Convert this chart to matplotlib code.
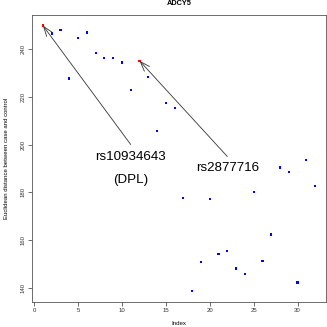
import matplotlib
matplotlib.use("Agg")
import matplotlib.pyplot as plt
import numpy as np

plt.rcParams['font.family'] = ['Liberation Sans', 'DejaVu Sans']

# Euclidean distance per SNP index
distance = [249.7, 246.4, 247.8, 227.6, 244.6, 246.8, 238.2, 236.0,
            236.0, 234.3, 222.8, 235.0, 228.2, 205.5, 217.4, 215.1,
            177.5, 138.8, 151.1, 177.1, 154.2, 155.5, 148.2, 145.8,
            180.0, 151.3, 162.4, 190.4, 188.5, 142.4, 193.6, 182.6]
index = np.arange(1, len(distance) + 1)
highlight = [1, 12]
snp_labels = ["rs10934643", "rs2877716"]
gene_label = "(DPL)"
title = "ADCY5"

fig = plt.figure(figsize=(3.27, 3.27), dpi=100)
ax = fig.add_axes([0.098, 0.077, 0.899, 0.877])

colors = ['red' if i in highlight else 'blue' for i in index]
ax.scatter(index, distance, c=colors, marker='s', s=2.4, linewidths=0)

ax.set_xlim(-0.24, 33.24)
ax.set_ylim(134.3, 254.1)
ax.set_xticks(np.arange(0, 31, 5))
ax.set_yticks(np.arange(140, 241, 20))
ax.tick_params(labelsize=4.3, length=3, width=0.5, colors='#333', pad=1.5)
for lab in ax.get_yticklabels():
    lab.set_rotation(90)
    lab.set_va('center')
for sp in ax.spines.values():
    sp.set_linewidth(0.6)
    sp.set_color('#555')

ax.set_xlabel("Index", fontsize=4.4, labelpad=6)
ax.set_ylabel("Euclidean distance between case and control", fontsize=4.3, labelpad=8.5)
ax.set_title(title, fontsize=5.3, fontweight='bold', pad=7)

arrow = dict(arrowstyle='->,head_length=0.7,head_width=0.25', color='#333',
             lw=0.6, shrinkA=0, shrinkB=0)
i1, i2 = highlight
ax.annotate("", xy=(i1, distance[i1 - 1]), xytext=(11, 200), arrowprops=arrow)
ax.text(11, 195, snp_labels[0], fontsize=9.6, ha='center', va='center')
ax.text(11, 185, gene_label, fontsize=9.6, ha='center', va='center')
ax.annotate("", xy=(i2, distance[i2 - 1]), xytext=(22, 195), arrowprops=arrow)
ax.text(22, 190, snp_labels[1], fontsize=9.6, ha='center', va='center')

fig.savefig("out.png", dpi=100)
